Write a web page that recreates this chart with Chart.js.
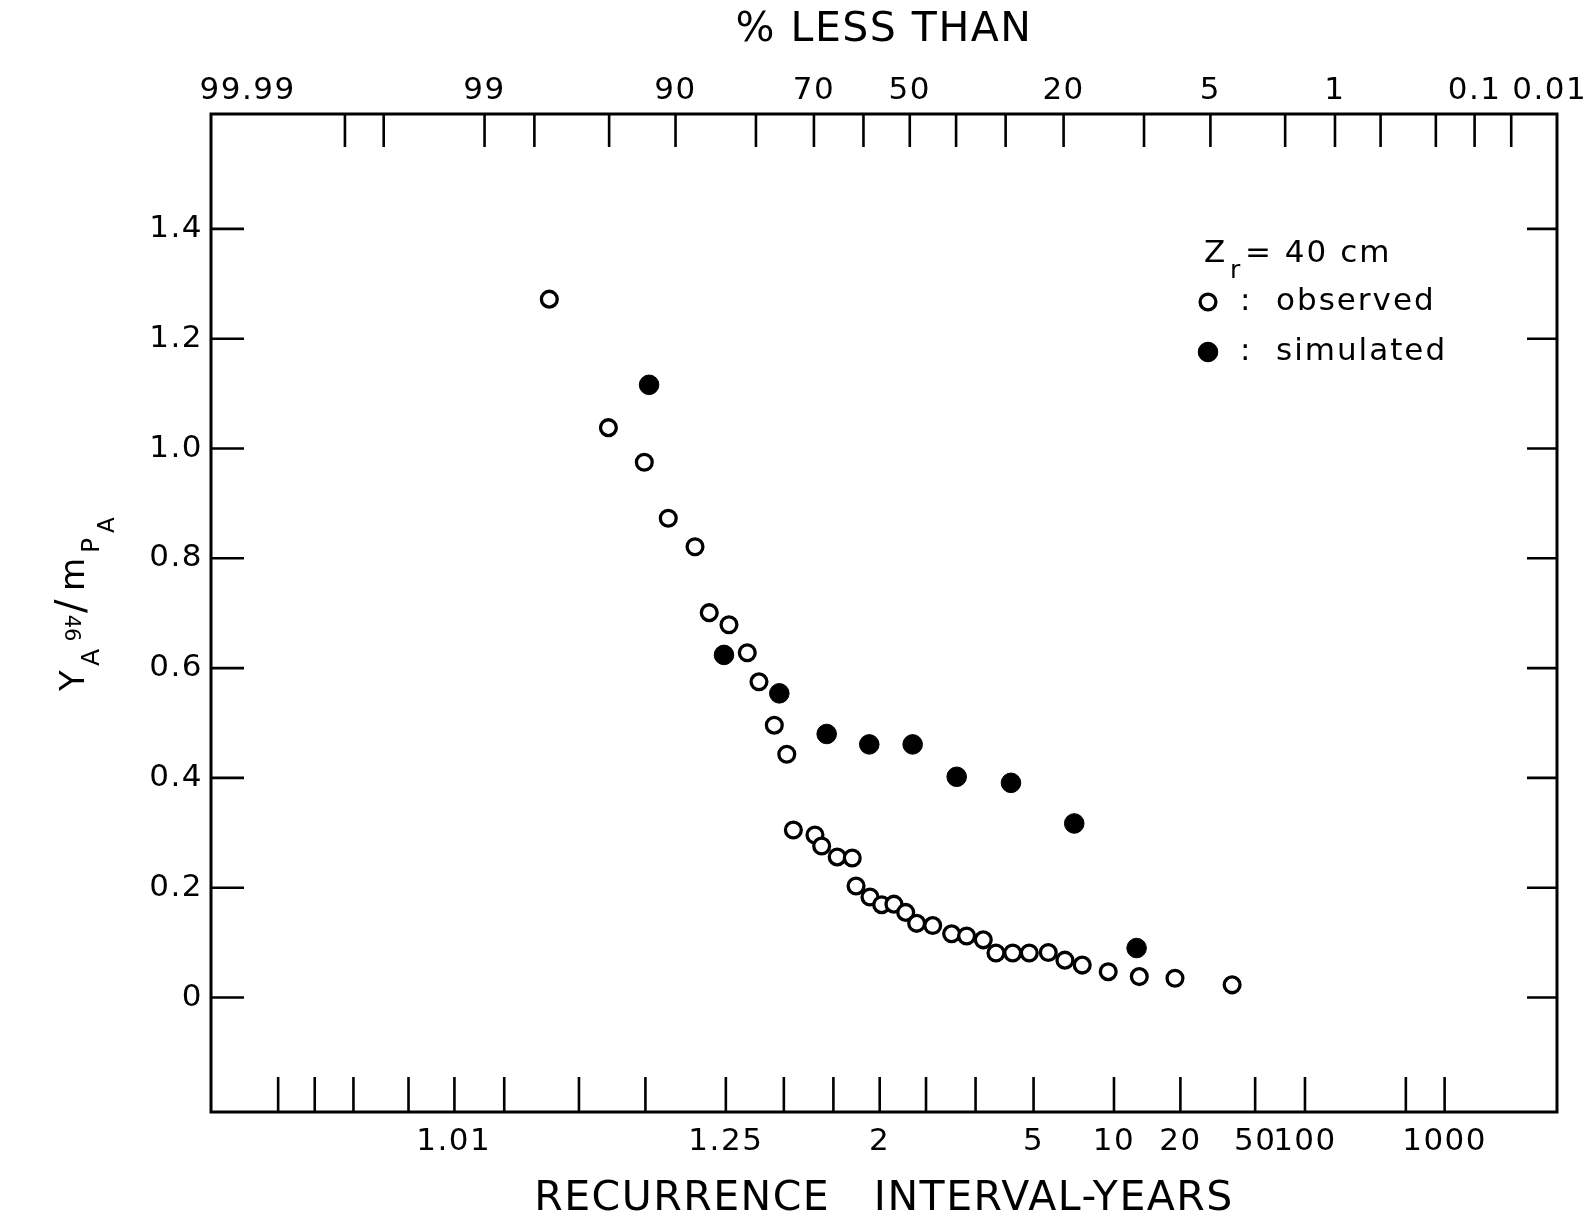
<!DOCTYPE html>
<html><head><meta charset="utf-8">
<script src="https://cdn.jsdelivr.net/npm/chart.js"></script>
<style>html,body{margin:0;padding:0;background:#fff;overflow:hidden}canvas{display:block}</style>
</head><body>
<canvas id="c" width="1596" height="1218"></canvas>
<script>
// ---- data ----
// observed points: x as "% less than", y as Y_A/m_PA
const obsPctLessThan = [97.57, 95.04, 92.68, 90.68, 88.00, 86.37, 83.87, 81.30, 79.53, 77.07, 74.95,
  73.79, 69.80, 68.51, 65.43, 62.35, 61.56, 58.62, 56.11, 53.45, 50.89, 48.50, 45.01, 40.94, 37.79,
  34.38, 31.86, 28.67, 25.66, 22.43, 19.80, 17.27, 13.88, 10.46, 7.34, 3.89];
const obsY = [1.272, 1.038, 0.975, 0.873, 0.821, 0.701, 0.679, 0.628, 0.575, 0.496, 0.443,
  0.305, 0.296, 0.276, 0.256, 0.254, 0.203, 0.183, 0.169, 0.170, 0.155, 0.135, 0.131, 0.116, 0.112,
  0.105, 0.081, 0.081, 0.081, 0.082, 0.068, 0.059, 0.047, 0.038, 0.035, 0.023];
const simPctLessThan = [92.31, 84.53, 76.23, 67.53, 58.77, 49.37, 39.87, 28.99, 18.41, 10.73];
const simY = [1.116, 0.624, 0.554, 0.480, 0.461, 0.461, 0.402, 0.391, 0.317, 0.090];

// axes
const topLabelPct = [99.99, 99, 90, 70, 50, 20, 5, 1, 0.1, 0.01];
const topLabelText = ['99.99', '99', '90', '70', '50', '20', '5', '1', '0.1', '0.01'];
const topTickPct = [99.9, 99.8, 99, 98, 95, 90, 80, 70, 60, 50, 40, 30, 20, 10, 5, 2, 1, 0.5, 0.2, 0.1, 0.05];
const bottomLabelT = [1.01, 1.25, 2, 5, 10, 20, 50, 100, 1000];
const bottomLabelText = ['1.01', '1.25', '2', '5', '10', '20', '50', '100', '1000'];
const bottomTickT = [1.0005, 1.001, 1.002, 1.005, 1.0101, 1.0204, 1.0526, 1.1111, 1.25, 1.4286, 1.6667,
  2, 2.5, 3.3333, 5, 10, 20, 50, 100, 500, 1000];
const yTickValues = [0, 0.2, 0.4, 0.6, 0.8, 1.0, 1.2, 1.4];
const yTickLabels = ['0', '0.2', '0.4', '0.6', '0.8', '1.0', '1.2', '1.4'];

const topTitle = '% LESS THAN';
const bottomTitle = 'RECURRENCE   INTERVAL-YEARS';
const legendTitle = {main: 'Z', sub: 'r', rest: '= 40 cm'};
const seriesNames = ['observed', 'simulated'];

// ---- normal probability transform (probit) ----
function probit(p) {
  const a = [-3.969683028665376e+01, 2.209460984245205e+02, -2.759285104469687e+02, 1.383577518672690e+02, -3.066479806614716e+01, 2.506628277459239e+00];
  const b = [-5.447609879822406e+01, 1.615858368580409e+02, -1.556989798598866e+02, 6.680131188771972e+01, -1.328068155288572e+01];
  const c = [-7.784894002430293e-03, -3.223964580411365e-01, -2.400758277161838e+00, -2.549732539343734e+00, 4.374664141464968e+00, 2.938163982698783e+00];
  const d = [7.784695709041462e-03, 3.224671290700398e-01, 2.445134137142996e+00, 3.754408661907416e+00];
  const pl = 0.02425, ph = 1 - pl;
  let q, r;
  if (p < pl) { q = Math.sqrt(-2 * Math.log(p)); return (((((c[0]*q+c[1])*q+c[2])*q+c[3])*q+c[4])*q+c[5]) / ((((d[0]*q+d[1])*q+d[2])*q+d[3])*q+1); }
  if (p <= ph) { q = p - 0.5; r = q*q; return (((((a[0]*r+a[1])*r+a[2])*r+a[3])*r+a[4])*r+a[5])*q / (((((b[0]*r+b[1])*r+b[2])*r+b[3])*r+b[4])*r+1); }
  q = Math.sqrt(-2 * Math.log(1 - p)); return -(((((c[0]*q+c[1])*q+c[2])*q+c[3])*q+c[4])*q+c[5]) / ((((d[0]*q+d[1])*q+d[2])*q+d[3])*q+1);
}
const uFromPct = p => -probit(p / 100);
const uFromT = t => -probit(1 / t);

Chart.defaults.font.family = '"DejaVu Sans", sans-serif';
Chart.defaults.color = '#000';

const FONT = '"DejaVu Sans", sans-serif';

const frameTicks = {
  id: 'frameTicks',
  beforeDraw(chart) { chart.ctx.letterSpacing = '1.5px'; },
  beforeDatasetsDraw(chart) {
    const {ctx, chartArea: a, scales} = chart;
    ctx.save();
    ctx.strokeStyle = '#000';
    ctx.lineWidth = 3;
    ctx.strokeRect(a.left, a.top, a.right - a.left, a.bottom - a.top);
    ctx.lineWidth = 2.6;
    ctx.beginPath();
    topTickPct.forEach(p => { const x = scales.xTop.getPixelForValue(uFromPct(p)); ctx.moveTo(x, a.top); ctx.lineTo(x, a.top + 33); });
    bottomTickT.forEach(t => { const x = scales.x.getPixelForValue(uFromT(t)); ctx.moveTo(x, a.bottom); ctx.lineTo(x, a.bottom - 35); });
    yTickValues.forEach(v => {
      const y = scales.y.getPixelForValue(v);
      ctx.moveTo(a.left, y); ctx.lineTo(a.left + 33, y);
      ctx.moveTo(a.right, y); ctx.lineTo(a.right - 30, y);
    });
    ctx.stroke();
    ctx.restore();
  },
  afterDraw(chart) {
    const ctx = chart.ctx;
    ctx.save();
    ctx.fillStyle = '#000';
    ctx.letterSpacing = '2px';
    // legend
    ctx.textBaseline = 'middle';
    ctx.font = '31px ' + FONT; ctx.fillText(legendTitle.main, 1204, 254);
    ctx.font = '25px ' + FONT; ctx.fillText(legendTitle.sub, 1230, 271);
    ctx.font = '31px ' + FONT; ctx.fillText(legendTitle.rest, 1245, 254);
    chart.data.datasets.forEach((ds, i) => {
      const y = 302 + i * 50;
      ctx.beginPath();
      ctx.arc(1208, y, ds.pointRadius, 0, Math.PI * 2);
      ctx.fillStyle = ds.pointBackgroundColor; ctx.fill();
      ctx.lineWidth = ds.pointBorderWidth; ctx.strokeStyle = ds.pointBorderColor; ctx.stroke();
      ctx.fillStyle = '#000';
      ctx.font = '31px ' + FONT;
      ctx.fillText(':', 1240, y);
      ctx.fillText(ds.label, 1276, y);
    });
    // y axis title  Y_A / m_P_A  (rotated)
    ctx.save();
    ctx.translate(84, 691);
    ctx.rotate(-Math.PI / 2);
    ctx.textBaseline = 'alphabetic';
    ctx.letterSpacing = '0px';
    const pieces = [
      {t: 'Y', x: 0, dy: 0, s: 34}, {t: 'A', x: 25, dy: 15, s: 25},
      {t: '/', x: 78, dy: 0, s: 40}, {t: 'm', x: 100, dy: 0, s: 34},
      {t: 'P', x: 138, dy: 15, s: 25}, {t: 'A', x: 158, dy: 30, s: 23}];
    pieces.forEach(p => { ctx.font = p.s + 'px ' + FONT; ctx.fillText(p.t, p.x, p.dy); });
    ctx.restore();
    // small annotation near the axis title
    ctx.save();
    ctx.translate(70, 628);
    ctx.rotate(Math.PI / 2);
    ctx.font = '21px ' + FONT; ctx.textAlign = 'center'; ctx.textBaseline = 'middle';
    ctx.letterSpacing = '0px';
    ctx.fillText('46', 0, 0);
    ctx.restore();
    ctx.restore();
  }
};

new Chart(document.getElementById('c'), {
  type: 'scatter',
  data: {
    datasets: [
      {
        label: seriesNames[0], xAxisID: 'xTop', yAxisID: 'y',
        data: obsPctLessThan.map((p, i) => ({x: uFromPct(p), y: obsY[i]})),
        pointRadius: 7.9, pointBorderWidth: 3.3, pointBorderColor: '#000', pointBackgroundColor: '#fff',
        showLine: false
      },
      {
        label: seriesNames[1], xAxisID: 'xTop', yAxisID: 'y',
        data: simPctLessThan.map((p, i) => ({x: uFromPct(p), y: simY[i]})),
        pointRadius: 9.8, pointBorderWidth: 1, pointBorderColor: '#000', pointBackgroundColor: '#000',
        showLine: false
      }
    ]
  },
  options: {
    responsive: false, animation: false, events: [],
    layout: {padding: {left: 0, right: 39, top: 0, bottom: 0}},
    plugins: {legend: {display: false}, tooltip: {enabled: false}},
    scales: {
      xTop: {
        type: 'linear', position: 'top', min: -3.823, max: 3.541, bounds: 'data',
        grid: {display: false, drawTicks: false}, border: {display: false},
        ticks: {autoSkip: false, maxRotation: 0, minRotation: 0, padding: 4, color: '#000', font: {size: 31},
          callback: (v, i) => topLabelText[i]},
        afterBuildTicks: s => { s.ticks = topLabelPct.map(p => ({value: Math.min(Math.max(uFromPct(p), s.min + 0.2), s.max - 0.04)})); },
        title: {display: true, text: topTitle, color: '#000', font: {size: 41, lineHeight: 1}, padding: {top: 10, bottom: 0}},
        afterFit: s => { s.height = 114; }
      },
      x: {
        type: 'linear', position: 'bottom', min: -3.658, max: 3.705, bounds: 'data',
        grid: {display: false, drawTicks: false}, border: {display: false},
        ticks: {autoSkip: false, maxRotation: 0, minRotation: 0, padding: 11, color: '#000', font: {size: 31},
          callback: (v, i) => bottomLabelText[i]},
        afterBuildTicks: s => { s.ticks = bottomLabelT.map(t => ({value: uFromT(t)})); },
        title: {display: true, text: bottomTitle, color: '#000', font: {size: 41, lineHeight: 1}, padding: {top: 0, bottom: -2}},
        afterFit: s => { s.height = 106; }
      },
      y: {
        type: 'linear', position: 'left', min: -0.2086, max: 1.6093, bounds: 'data',
        grid: {display: false, drawTicks: false}, border: {display: false},
        ticks: {autoSkip: false, padding: 8, color: '#000', font: {size: 31},
          callback: (v, i) => yTickLabels[i]},
        afterBuildTicks: s => { s.ticks = yTickValues.map(v => ({value: v})); },
        afterFit: s => { s.width = 211; }
      }
    }
  },
  plugins: [frameTicks]
});
</script>
</body></html>
